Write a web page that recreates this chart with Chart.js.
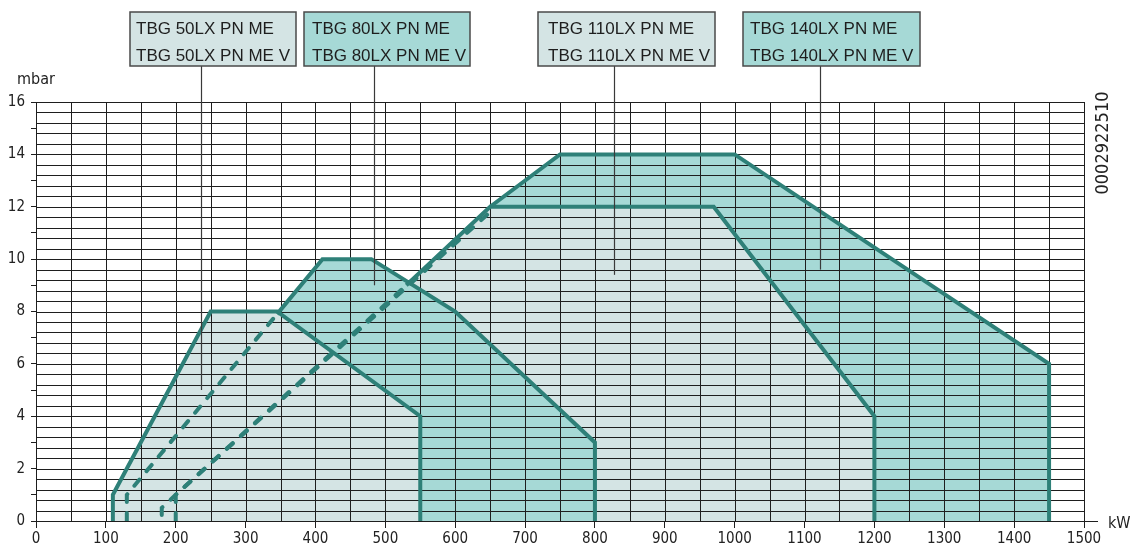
<!DOCTYPE html>
<html><head><meta charset="utf-8">
<script src="https://cdn.jsdelivr.net/npm/chart.js@4.4.1/dist/chart.umd.min.js"></script>
<style>html,body{margin:0;padding:0;background:#fff;}canvas{display:block}</style>
</head><body>
<canvas id="c" width="1130" height="545"></canvas>
<script>
// ---- axis ticks ----
const xTickValues = [0,100,200,300,400,500,600,700,800,900,1000,1100,1200,1300,1400,1500];
const yTickValues = [0,1,2,3,4,5,6,7,8,9,10,11,12,13,14,15,16];
const yLabelled   = [0,2,4,6,8,10,12,14,16];
const xUnit = 'kW';
const yUnit = 'mbar';
const docNumber = '0002922510';

// ---- model labels ----
const models = ['TBG 50LX PN ME','TBG 80LX PN ME','TBG 110LX PN ME','TBG 140LX PN ME'];
const modelsV = ['TBG 50LX PN ME V','TBG 80LX PN ME V','TBG 110LX PN ME V','TBG 140LX PN ME V'];
// leader line targets (kW, mbar)
const leaderKW   = [236, 484, 828, 1122];
const leaderMbar = [5.0, 9.0, 9.4, 9.6];

// ---- working fields (kW / mbar) ----
const area50X  = [110,110,250,345,550,550];
const area50Y  = [0,1,8,8,4,0];
const area80X  = [130,130,410,480,600,800,800];
const area80Y  = [0,1,10,10,8,3,0];
const area110X = [180,180,200,530,650,970,1200,1200];
const area110Y = [0,0.5,1,9,12,12,4,0];
const area140X = [180,180,200,530,650,750,1000,1450,1450];
const area140Y = [0,0.5,1,9,12,14,14,6,0];

// ---- outlines ----
const solid50X  = [110,110,250,345,550,550];
const solid50Y  = [0,1,8,8,4,0];
const dash50X   = [130,130,345];
const dash50Y   = [0,1,7.9];
const solid80X  = [345,410,480,600,800,800];
const solid80Y  = [7.9,10,10,8,3,0];
const dashA_X   = [180,180,200,530];
const dashA_Y   = [0,0.5,1,9];
const dashB_X   = [200,200,648];
const dashB_Y   = [0,1,11.75];
const solid110X = [530,650,970,1200,1200];
const solid110Y = [9,12,12,4,0];
const solid140X = [650,750,1000,1450,1450];
const solid140Y = [12,14,14,6,0];

const pts = (xs, ys) => xs.map((x, i) => ({x, y: ys[i]}));

const LINE = '#2e8078';
const LIGHT = '#d4e4e4';
const DARK = '#a6d9d6';
const GRID = '#1e1e1e';
const NARROW = '"Liberation Sans Narrow","Arial Narrow","DejaVu Sans Condensed",sans-serif';
const SANS = '"Liberation Sans",Arial,sans-serif';

function outline(xs, ys, dashed, dashOffset) {
  return {data: pts(xs, ys), borderColor: LINE, borderWidth: 4, fill: false,
    borderDash: dashed ? [8, 11] : [], borderDashOffset: dashOffset || 0,
    borderCapStyle: dashed ? 'round' : 'butt',
    borderJoinStyle: 'miter', pointRadius: 0, tension: 0};
}
function area(xs, ys, color, extra) {
  return Object.assign({data: pts(xs, ys), borderColor: 'rgba(0,0,0,0)', borderWidth: 0,
    backgroundColor: color, fill: 'origin', pointRadius: 0, tension: 0}, extra || {});
}

const boxes = [
  {x:130, y:12, w:166, h:54, fill:LIGHT, pad:6},
  {x:304, y:12, w:166, h:54, fill:DARK,  pad:8},
  {x:538, y:12, w:177, h:54, fill:LIGHT, pad:10},
  {x:743, y:12, w:177, h:54, fill:DARK,  pad:7}
];

const overlay = {
  id: 'overlay',
  afterDatasetDraw(chart, args) {
    if (!chart.data.datasets[args.index].gridAfter) return;
    const {ctx, chartArea: a, scales: {x, y}} = chart;
    ctx.save();
    ctx.lineWidth = 1; ctx.strokeStyle = GRID;
    ctx.beginPath();
    for (let v = 0; v <= 1500; v += 50) {
      const px = Math.round(x.getPixelForValue(v)) + 0.5;
      ctx.moveTo(px, a.top); ctx.lineTo(px, a.bottom);
    }
    for (let k = 0; k <= 40; k++) {
      const py = Math.round(y.getPixelForValue(k * 0.4)) + 0.5;
      ctx.moveTo(a.left, py); ctx.lineTo(a.right, py);
    }
    ctx.stroke();
    ctx.restore();
  },
  afterDraw(chart) {
    const {ctx, chartArea: a, scales: {x, y}} = chart;
    ctx.save();
    // x axis extension
    ctx.strokeStyle = GRID; ctx.lineWidth = 1;
    ctx.beginPath(); ctx.moveTo(a.right, Math.round(a.bottom)+0.5); ctx.lineTo(a.right + 14, Math.round(a.bottom)+0.5); ctx.stroke();
    // leader lines
    ctx.strokeStyle = '#3a3a3a'; ctx.lineWidth = 1.2;
    boxes.forEach((b, i) => {
      const px = Math.round(x.getPixelForValue(leaderKW[i])) + 0.5;
      ctx.beginPath(); ctx.moveTo(px, b.y + b.h); ctx.lineTo(px, y.getPixelForValue(leaderMbar[i])); ctx.stroke();
    });
    // boxes
    boxes.forEach((b, i) => {
      ctx.fillStyle = b.fill; ctx.fillRect(b.x, b.y, b.w, b.h);
      ctx.strokeStyle = '#4a4a4a'; ctx.lineWidth = 1.5; ctx.strokeRect(b.x, b.y, b.w, b.h);
      ctx.fillStyle = '#1e1e1e'; ctx.font = '17px ' + SANS;
      ctx.textAlign = 'left'; ctx.textBaseline = 'alphabetic';
      ctx.fillText(models[i], b.x + b.pad, b.y + 22);
      ctx.fillText(modelsV[i], b.x + b.pad, b.y + 49);
    });
    // unit labels
    ctx.fillStyle = '#222'; ctx.font = '16px ' + NARROW;
    ctx.textAlign = 'left'; ctx.textBaseline = 'alphabetic';
    ctx.fillText(yUnit, 17, 84);
    ctx.fillText(xUnit, 1108, 528);
    // document number, vertical
    ctx.translate(1103, 143); ctx.rotate(-Math.PI / 2);
    ctx.font = '18px ' + NARROW; ctx.textAlign = 'center'; ctx.textBaseline = 'middle';
    ctx.fillText(docNumber, 0, 0);
    ctx.restore();
  }
};

new Chart(document.getElementById('c'), {
  type: 'line',
  data: {datasets: [
    outline(solid140X, solid140Y, false),
    outline(solid110X, solid110Y, false),
    outline(solid80X, solid80Y, false),
    outline(solid50X, solid50Y, false),
    outline(dash50X, dash50Y, true),
    outline(dashA_X, dashA_Y, true, 12.9),
    outline(dashB_X, dashB_Y, true),
    area(area50X, area50Y, LIGHT, {gridAfter: true}),
    area(area80X, area80Y, DARK),
    area(area110X, area110Y, LIGHT),
    area(area140X, area140Y, DARK)
  ]},
  options: {
    responsive: false, animation: false,
    layout: {padding: {top: 102, right: 46, left: 0, bottom: 0}},
    plugins: {legend: {display: false}, tooltip: {enabled: false}},
    scales: {
      x: {type: 'linear', min: 0, max: 1500,
        afterBuildTicks: s => { s.ticks = xTickValues.map(v => ({value: v})); },
        afterFit: s => { s.height = 24; },
        grid: {drawOnChartArea: false, drawTicks: true, tickLength: 7, color: GRID, lineWidth: 1},
        border: {color: GRID, width: 1},
        ticks: {autoSkip: false, maxRotation: 0, padding: 2, color: '#222', font: {family: NARROW, size: 15},
          callback: v => String(v)}
      },
      y: {type: 'linear', min: 0, max: 16,
        afterBuildTicks: s => { s.ticks = yTickValues.map(v => ({value: v})); },
        afterFit: s => { s.width = 36; },
        grid: {drawOnChartArea: false, drawTicks: true, tickLength: 5, color: GRID, lineWidth: 1},
        border: {color: GRID, width: 1},
        ticks: {autoSkip: false, padding: 6, color: '#222', font: {family: NARROW, size: 15},
          callback: v => yLabelled.includes(v) ? String(v) : ''}
      }
    }
  },
  plugins: [overlay]
});
</script>
</body></html>
